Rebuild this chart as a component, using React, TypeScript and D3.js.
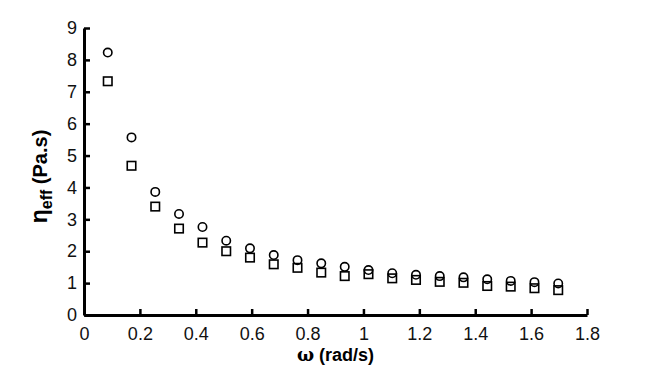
import { useRef, useEffect } from 'react';
import * as d3 from 'd3';

const OMEGA = [0.085, 0.17, 0.255, 0.34, 0.424, 0.509, 0.594, 0.679, 0.764, 0.849,
  0.933, 1.018, 1.103, 1.188, 1.273, 1.358, 1.443, 1.527, 1.612, 1.697];
const ETA_CIRCLE = [8.23, 5.57, 3.86, 3.17, 2.76, 2.33, 2.09, 1.88, 1.72, 1.62,
  1.51, 1.41, 1.31, 1.26, 1.22, 1.18, 1.12, 1.07, 1.03, 0.99];
const ETA_SQUARE = [7.33, 4.68, 3.4, 2.71, 2.27, 2.0, 1.8, 1.59, 1.48, 1.33,
  1.22, 1.28, 1.15, 1.1, 1.04, 1.01, 0.91, 0.89, 0.84, 0.78];
const X_TICKS = [0, 0.2, 0.4, 0.6, 0.8, 1, 1.2, 1.4, 1.6, 1.8];
const Y_TICKS = [0, 1, 2, 3, 4, 5, 6, 7, 8, 9];

export default function App() {
  const ref = useRef<SVGSVGElement>(null);

  useEffect(() => {
    const svg = d3.select(ref.current);
    svg.selectAll('*').remove();

    const W = 648, H = 375;
    const m = { left: 84, right: 61, top: 28, bottom: 60 };

    const x = d3.scaleLinear().domain([0, 1.8]).range([m.left, W - m.right]);
    const y = d3.scaleLinear().domain([0, 9]).range([H - m.bottom, m.top]);
    const font = 'Liberation Sans, Arial, Helvetica, sans-serif';

    // X axis, ticks point inward
    const gx = svg.append('g').attr('transform', `translate(0,${y(0)})`)
      .call(d3.axisBottom(x).tickValues(X_TICKS).tickSize(-6).tickSizeOuter(0)
        .tickPadding(12).tickFormat(d => String(d)));
    gx.select('.domain').attr('stroke', '#000').attr('stroke-width', 3);
    gx.selectAll('line').attr('stroke', '#000').attr('stroke-width', 2.5);
    gx.selectAll('text').attr('fill', '#111').style('font-size', '18px').style('font-family', font);

    // Y axis
    const gy = svg.append('g').attr('transform', `translate(${x(0)},0)`)
      .call(d3.axisLeft(y).tickValues(Y_TICKS).tickSize(-6).tickSizeOuter(0)
        .tickPadding(7).tickFormat(d => String(d)));
    gy.select('.domain').attr('stroke', '#000').attr('stroke-width', 3);
    gy.selectAll('line').attr('stroke', '#000').attr('stroke-width', 2.5);
    gy.selectAll('text').attr('fill', '#111').style('font-size', '18px').style('font-family', font);

    // Axis titles
    const xt = svg.append('text')
      .attr('x', (x(0) + x(1.8)) / 2).attr('y', 361)
      .attr('text-anchor', 'middle').attr('fill', '#000')
      .style('font-size', '18px').style('font-weight', 'bold').style('font-family', font);
    xt.append('tspan').style('font-family', 'DejaVu Serif, serif').text('ω');
    xt.append('tspan').text(' (rad/s)');

    const yt = svg.append('text')
      .attr('transform', `translate(47,${(y(0) + y(9)) / 2 + 5}) rotate(-90)`)
      .attr('text-anchor', 'middle').attr('fill', '#000')
      .style('font-size', '20px').style('font-weight', 'bold').style('font-family', font);
    yt.append('tspan').style('font-size', '23px').text('η');
    yt.append('tspan').attr('baseline-shift', '-30%').style('font-size', '16px').text('eff');
    yt.append('tspan').text(' (Pa.s)');

    // Circles
    svg.append('g').selectAll('circle').data(OMEGA).enter().append('circle')
      .attr('cx', (d) => x(d)).attr('cy', (_, i) => y(ETA_CIRCLE[i]))
      .attr('r', 4.2).attr('fill', 'none').attr('stroke', '#000').attr('stroke-width', 1.6);

    // Squares
    const s = 8.5;
    svg.append('g').selectAll('rect').data(OMEGA).enter().append('rect')
      .attr('x', (d) => x(d) - s / 2).attr('y', (_, i) => y(ETA_SQUARE[i]) - s / 2)
      .attr('width', s).attr('height', s)
      .attr('fill', 'none').attr('stroke', '#000').attr('stroke-width', 1.6);
  }, []);

  return (
    <svg ref={ref} width={648} height={375}
      style={{ position: 'absolute', left: 0, top: 0, background: '#fff' }} />
  );
}
